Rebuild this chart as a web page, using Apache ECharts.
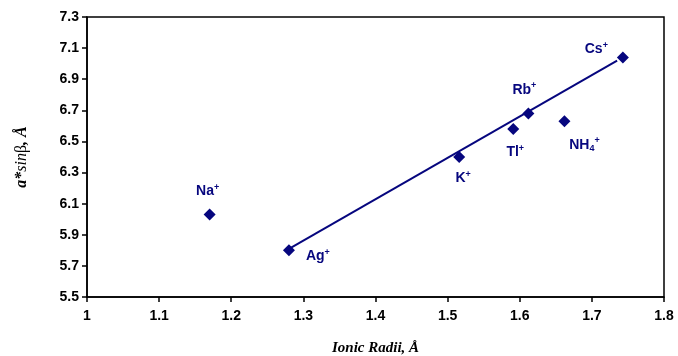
<!DOCTYPE html>
<html>
<head>
<meta charset="utf-8">
<script src="https://cdn.jsdelivr.net/npm/echarts@6/dist/echarts.min.js"></script>
<style>
  html, body { margin: 0; padding: 0; background: #fff; }
  #main { width: 678px; height: 356px; }
</style>
</head>
<body>
<div id="main"></div>
<script>
// ion names, radii and a*sinβ values
var ions = ['Na', 'Ag', 'K', 'Tl', 'Rb', 'NH4', 'Cs'];
var radii = [1.17, 1.28, 1.516, 1.591, 1.612, 1.662, 1.743];
var aSinB = [6.03, 5.80, 6.40, 6.58, 6.68, 6.63, 7.04];
// trend line end points
var fitX = [1.28, 1.735];
var fitY = [5.81, 7.02];

var navy = '#06067e';

// label placement per ion
var labelPos = {
    Na: { position: 'top', offset: [-2, -4] },
    Ag: { position: 'right', offset: [6, 6] },
    K: { position: 'bottom', offset: [4, 2] },
    Tl: { position: 'bottom', offset: [2, 4] },
    Rb: { position: 'top', offset: [-4, -4] },
    NH4: { position: 'bottom', offset: [20, 4] },
    Cs: { position: 'left', offset: [-4, -8] }
};

var pointData = ions.map(function (name, i) {
    var p = labelPos[name];
    var txt = name === 'NH4' ? '{b|NH}{sub|4}{sup|+}' : '{b|' + name + '}{sup|+}';
    return {
        value: [radii[i], aSinB[i]],
        label: { show: true, position: p.position, offset: p.offset, formatter: txt }
    };
});

var chartDom = document.getElementById('main');
var myChart = echarts.init(chartDom);
var option = {
    animation: false,
    backgroundColor: '#fff',
    grid: {
        left: 87, right: 14, top: 17, bottom: 59,
        outerBoundsMode: 'none', containLabel: false,
        show: true, borderColor: '#000', borderWidth: 1.5
    },
    xAxis: {
        type: 'value', min: 1, max: 1.8, interval: 0.1,
        name: 'Ionic Radii, Å', nameLocation: 'middle', nameGap: 44,
        nameTextStyle: { fontFamily: 'Liberation Serif', fontStyle: 'italic', fontWeight: 'bold', fontSize: 15, color: '#000' },
        axisLine: { lineStyle: { color: '#000', width: 1.5 } },
        axisTick: { show: true, length: 5, lineStyle: { color: '#000', width: 1.5 } },
        axisLabel: {
            fontFamily: 'Liberation Sans', fontWeight: 'bold', fontSize: 14, color: '#000', margin: 12,
            formatter: function (v) { return String(+v.toFixed(1)); }
        },
        splitLine: { show: false }
    },
    yAxis: {
        type: 'value', min: 5.5, max: 7.3, interval: 0.2,
        name: '{bi|a*}{i|sin}{n|β}{bi|, Å}', nameLocation: 'middle', nameGap: 57,
        nameTextStyle: {
            color: '#000', fontSize: 16,
            rich: {
                bi: { fontFamily: 'Liberation Serif', fontStyle: 'italic', fontWeight: 'bold', fontSize: 16 },
                i: { fontFamily: 'Liberation Serif', fontStyle: 'italic', fontSize: 16 },
                n: { fontFamily: 'Liberation Serif', fontSize: 16 }
            }
        },
        axisLine: { show: true, lineStyle: { color: '#000', width: 1.5 } },
        axisTick: { show: true, length: 5, lineStyle: { color: '#000', width: 1.5 } },
        axisLabel: {
            fontFamily: 'Liberation Sans', fontWeight: 'bold', fontSize: 14, color: '#000', margin: 8,
            formatter: function (v) { return v.toFixed(1); }
        },
        splitLine: { show: false }
    },
    series: [
        {
            type: 'line',
            data: [[fitX[0], fitY[0]], [fitX[1], fitY[1]]],
            showSymbol: false,
            lineStyle: { color: navy, width: 2 },
            silent: true
        },
        {
            type: 'scatter',
            data: pointData,
            symbol: 'diamond',
            symbolSize: [12, 12],
            itemStyle: { color: navy, opacity: 1 },
            label: {
                color: navy,
                rich: {
                    b: { fontFamily: 'Liberation Sans', fontWeight: 'bold', fontSize: 14, color: navy },
                    sup: { fontFamily: 'Liberation Sans', fontWeight: 'bold', fontSize: 9, color: navy, verticalAlign: 'top', padding: [0, 0, 8, 0] },
                    sub: { fontFamily: 'Liberation Sans', fontWeight: 'bold', fontSize: 9, color: navy, verticalAlign: 'bottom', padding: [8, 0, 0, 0] }
                }
            }
        }
    ]
};
option && myChart.setOption(option);
</script>
</body>
</html>
